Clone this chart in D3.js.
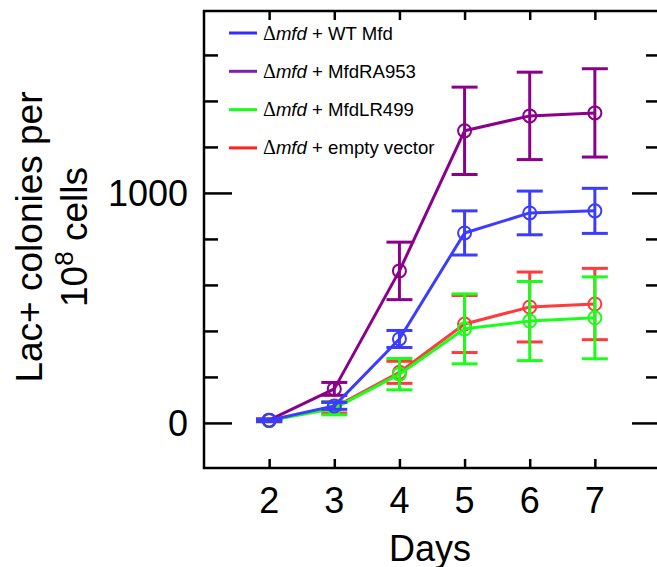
<!DOCTYPE html>
<html>
<head>
<meta charset="utf-8">
<script src="https://cdn.jsdelivr.net/npm/d3@7"></script>
<style>
  html, body { margin: 0; padding: 0; background: #fff; }
  svg { display: block; }
  text { font-family: "Liberation Sans", Arial, sans-serif; fill: #000; }
</style>
</head>
<body>
<script>
// ---- data ----
const days = [2, 3, 4, 5, 6, 7];
const seriesNames = ["WT Mfd", "MfdRA953", "MfdLR499", "empty vector"];
const wtMfd      = [12, 74, 365, 826, 913, 922];
const wtMfdErr   = [5, 15, 37, 96, 95, 98];
const mfdRA953   = [12, 148, 661, 1270, 1335, 1348];
const mfdRA953Err= [5, 28, 125, 190, 190, 192];
const mfdLR499   = [10, 63, 212, 409, 443, 457];
const mfdLR499Err= [5, 28, 68, 152, 172, 178];
const emptyVec   = [10, 68, 220, 430, 504, 517];
const emptyVecErr= [5, 25, 48, 124, 152, 155];
const yTickValues = [0, 200, 400, 600, 800, 1000, 1200, 1400, 1600];
const yTickLabels = ["0", "1000"];

const colors = {
  "WT Mfd": "#3c3cff",
  "MfdRA953": "#8b008b",
  "MfdLR499": "#1aff1a",
  "empty vector": "#ff3b3b"
};
const legendColors = {
  "WT Mfd": "#2f2fff",
  "MfdRA953": "#7d1fb0",
  "MfdLR499": "#1aff1a",
  "empty vector": "#ff2020"
};

const series = [
  { name: "empty vector", values: emptyVec, err: emptyVecErr },
  { name: "MfdLR499", values: mfdLR499, err: mfdLR499Err },
  { name: "MfdRA953", values: mfdRA953, err: mfdRA953Err },
  { name: "WT Mfd", values: wtMfd, err: wtMfdErr }
];

// ---- layout ----
const W = 657, H = 567;
const svg = d3.select("body").append("svg").attr("width", W).attr("height", H);

const x = d3.scaleLinear().domain([1, 8]).range([204, 660]);
const y = d3.scaleLinear().domain([-196, 1791]).range([468, 11]);

const axisStroke = 2.5;

// frame
svg.append("rect")
  .attr("x", x.range()[0]).attr("y", y.range()[1])
  .attr("width", x.range()[1] - x.range()[0])
  .attr("height", y.range()[0] - y.range()[1])
  .attr("fill", "none").attr("stroke", "#000").attr("stroke-width", axisStroke);

// y ticks (left and right, inward)
const yAxisL = d3.axisRight(y).tickValues(yTickValues).tickFormat("").tickSizeOuter(0).tickSize(14);
const gL = svg.append("g").attr("transform", `translate(${x.range()[0]},0)`).call(yAxisL);
gL.select(".domain").remove();
gL.selectAll(".tick line").attr("stroke", "#000").attr("stroke-width", axisStroke)
  .attr("x2", d => (yTickLabels.includes(String(d)) ? 28 : 14));

const yAxisR = d3.axisLeft(y).tickValues(yTickValues).tickFormat("").tickSizeOuter(0).tickSize(14);
const gR = svg.append("g").attr("transform", `translate(${x.range()[1]},0)`).call(yAxisR);
gR.select(".domain").remove();
gR.selectAll(".tick line").attr("stroke", "#000").attr("stroke-width", axisStroke)
  .attr("x2", d => (yTickLabels.includes(String(d)) ? -28 : -14));

// y tick labels
yTickLabels.forEach(lbl => {
  svg.append("text")
    .attr("x", 188).attr("y", y(+lbl))
    .attr("dy", "0.35em")
    .attr("text-anchor", "end")
    .style("font-size", "36px")
    .text(lbl);
});

// x ticks bottom and top, inward
const xAxisB = d3.axisTop(x).tickValues(days).tickFormat("").tickSizeOuter(0).tickSize(9);
const gB = svg.append("g").attr("transform", `translate(0,${y.range()[0]})`).call(xAxisB);
gB.select(".domain").remove();
gB.selectAll(".tick line").attr("stroke", "#000").attr("stroke-width", axisStroke);

const xAxisT = d3.axisBottom(x).tickValues(days).tickFormat("").tickSizeOuter(0).tickSize(9);
const gT = svg.append("g").attr("transform", `translate(0,${y.range()[1]})`).call(xAxisT);
gT.select(".domain").remove();
gT.selectAll(".tick line").attr("stroke", "#000").attr("stroke-width", axisStroke);

// x tick labels
days.forEach(d => {
  svg.append("text")
    .attr("x", x(d)).attr("y", 513)
    .attr("text-anchor", "middle")
    .style("font-size", "36px")
    .text(d);
});

// axis titles
svg.append("text")
  .attr("x", 430).attr("y", 561)
  .attr("text-anchor", "middle")
  .style("font-size", "36px")
  .text("Days");

const yl = svg.append("text")
  .attr("transform", "translate(42,237) rotate(-90)")
  .attr("text-anchor", "middle")
  .style("font-size", "37px");
yl.append("tspan").attr("x", 0).attr("y", 0).text("Lac+ colonies per");
const l2 = svg.append("text")
  .attr("transform", "translate(87,237) rotate(-90)")
  .attr("text-anchor", "middle")
  .style("font-size", "37px");
l2.append("tspan").text("10");
l2.append("tspan").attr("dy", "-14").style("font-size", "26px").text("8");
l2.append("tspan").attr("dy", "14").text(" cells");

// ---- data marks ----
const line = d3.line().x((d, i) => x(days[i])).y(d => y(d));
const cap = 13;

series.forEach(s => {
  const c = colors[s.name];
  const g = svg.append("g");
  g.append("path").datum(s.values)
    .attr("d", line).attr("fill", "none")
    .attr("stroke", c).attr("stroke-width", 3).attr("stroke-linejoin", "round");
  s.values.forEach((v, i) => {
    const cx = x(days[i]);
    const top = y(v + s.err[i]), bot = y(v - s.err[i]);
    g.append("line").attr("x1", cx).attr("x2", cx).attr("y1", top).attr("y2", bot)
      .attr("stroke", c).attr("stroke-width", 3);
    g.append("line").attr("x1", cx - cap).attr("x2", cx + cap).attr("y1", top).attr("y2", top)
      .attr("stroke", c).attr("stroke-width", 3);
    g.append("line").attr("x1", cx - cap).attr("x2", cx + cap).attr("y1", bot).attr("y2", bot)
      .attr("stroke", c).attr("stroke-width", 3);
    g.append("circle").attr("cx", cx).attr("cy", y(v)).attr("r", 6.5)
      .attr("fill", "none").attr("stroke", c).attr("stroke-width", 2);
  });
});

// ---- legend ----
const legendOrder = ["WT Mfd", "MfdRA953", "MfdLR499", "empty vector"];
const lg = svg.append("g");
legendOrder.forEach((name, i) => {
  const ly = 33 + i * 38.3;
  lg.append("line").attr("x1", 229).attr("x2", 257).attr("y1", ly).attr("y2", ly)
    .attr("stroke", legendColors[name]).attr("stroke-width", 3);
  const t = lg.append("text").attr("x", 263).attr("y", ly + 6.5).style("font-size", "18.6px");
  t.append("tspan").style("font-family", "'Liberation Serif', 'Times New Roman', serif")
    .style("font-size", "20px").text("\u0394");
  t.append("tspan").style("font-style", "italic").text("mfd");
  t.append("tspan").text(" + " + name);
});
</script>
</body>
</html>
